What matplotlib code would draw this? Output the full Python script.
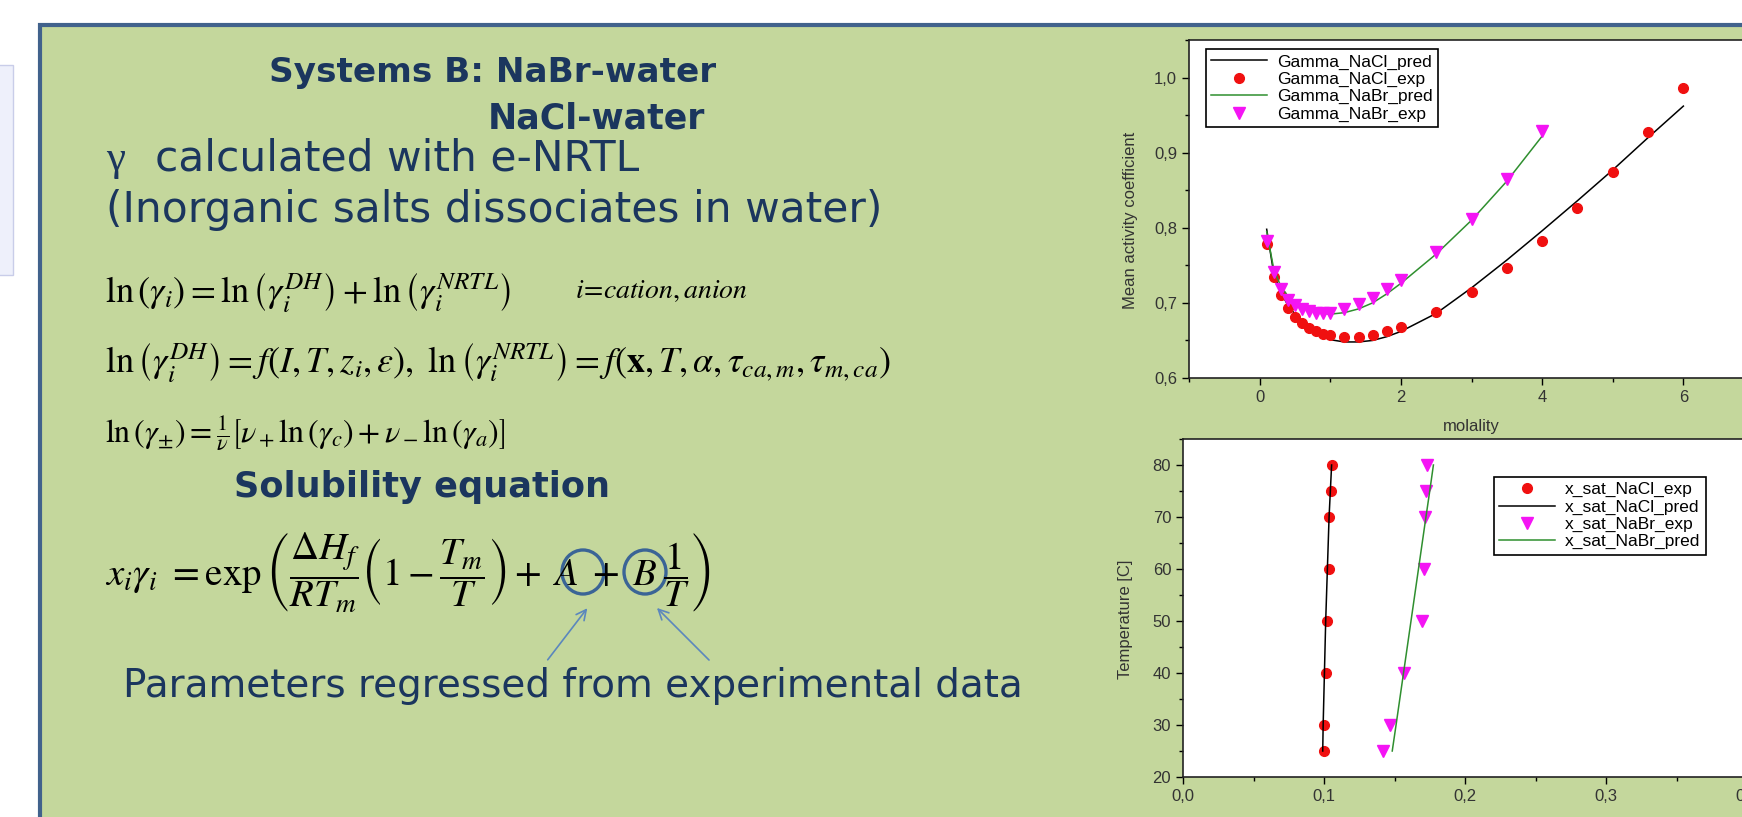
import numpy as np
import matplotlib.pyplot as plt
from matplotlib.patches import Rectangle, Ellipse
from matplotlib.ticker import MultipleLocator, FuncFormatter

plt.rcParams['mathtext.fontset'] = 'stix'

W, H = 1742, 817

# mean activity coefficients at 25 C
m_nacl = [0.1, 0.2, 0.3, 0.4, 0.5, 0.6, 0.7, 0.8, 0.9, 1.0, 1.2, 1.4, 1.6, 1.8,
          2.0, 2.5, 3.0, 3.5, 4.0, 4.5, 5.0, 5.5, 6.0]
gamma_nacl_exp = [0.778, 0.735, 0.710, 0.693, 0.681, 0.673, 0.667, 0.662, 0.659, 0.657,
                  0.654, 0.655, 0.657, 0.662, 0.668, 0.688, 0.714, 0.746, 0.783, 0.826,
                  0.874, 0.928, 0.986]
gamma_nacl_pred = [0.798, 0.739, 0.714, 0.697, 0.685, 0.675, 0.667, 0.660, 0.655, 0.651,
                   0.648, 0.648, 0.650, 0.655, 0.662, 0.686, 0.720, 0.757, 0.796, 0.836,
                   0.877, 0.920, 0.962]
m_nabr = [0.1, 0.2, 0.3, 0.4, 0.5, 0.6, 0.7, 0.8, 0.9, 1.0, 1.2, 1.4, 1.6, 1.8,
          2.0, 2.5, 3.0, 3.5, 4.0]
gamma_nabr_exp = [0.782, 0.741, 0.719, 0.704, 0.697, 0.692, 0.689, 0.687, 0.687, 0.687,
                  0.692, 0.699, 0.706, 0.718, 0.731, 0.768, 0.812, 0.865, 0.929]
gamma_nabr_pred = [0.795, 0.745, 0.722, 0.709, 0.700, 0.694, 0.690, 0.688, 0.686, 0.685,
                   0.687, 0.692, 0.700, 0.712, 0.726, 0.765, 0.810, 0.862, 0.922]

# solubility vs temperature
temp = [25, 30, 40, 50, 60, 70, 75, 80]
xsat_nacl_exp = [0.1000, 0.1000, 0.1015, 0.1021, 0.1033, 0.1039, 0.1048, 0.1054]
xsat_nacl_pred = [0.0991, 0.0994, 0.1003, 0.1012, 0.1024, 0.1036, 0.1045, 0.1054]
xsat_nabr_exp = [0.1418, 0.1469, 0.1567, 0.1696, 0.1710, 0.1716, 0.1722, 0.1731]
xsat_nabr_pred = [0.1484, 0.1511, 0.1564, 0.1617, 0.1670, 0.1723, 0.1750, 0.1776]

panel = '#c4d79c'
border = '#41628c'
navy = '#1b365e'
red = '#f01010'
magenta = '#f414f4'
green = '#2f8f2f'


def comma(v, pos):
    return f'{v:.1f}'.replace('.', ',')


fig = plt.figure(figsize=(W / 100, H / 100), dpi=100)

# slide background in pixel coordinates
bg = fig.add_axes([0, 0, 1, 1])
bg.set_xlim(0, W)
bg.set_ylim(H, 0)
bg.axis('off')
bg.add_patch(Rectangle((40, 25), 1800, 900, fc=panel, ec=border, lw=3))
bg.add_patch(Rectangle((-5, 65), 18, 210, fc='#eef0fb', ec='#c9cde9', lw=1))

txt = dict(family='DejaVu Sans', color=navy, va='baseline', ha='left')
bg.text(269, 82, 'Systems B: NaBr-water', fontsize=24.7, fontweight='bold', **txt)
bg.text(488, 128, 'NaCl-water', fontsize=25, fontweight='bold', **txt)
bg.text(106, 170, 'γ', fontsize=31, family='Liberation Serif', color=navy, va='baseline')
bg.text(155, 170, 'calculated with e-NRTL', fontsize=30.5, **txt)
bg.text(106, 222, '(Inorganic salts dissociates in water)', fontsize=30.5, **txt)
bg.text(234, 497, 'Solubility equation', fontsize=25.3, fontweight='bold', **txt)
bg.text(123, 697, 'Parameters regressed from experimental data', fontsize=28, **txt)

eq = dict(color='black', va='center', ha='left')
bg.text(105, 292, r'$\ln\left(\gamma_i\right)=\ln\left(\gamma_i^{DH}\right)+\ln\left(\gamma_i^{NRTL}\right)$',
        fontsize=26, **eq)
bg.text(575, 290, r'$i\!=\!cation,anion$', fontsize=20, **eq)
bg.text(105, 362, r'$\ln\left(\gamma_i^{DH}\right)=f\left(I,T,z_i,\varepsilon\right),\ '
                  r'\ln\left(\gamma_i^{NRTL}\right)=f\left(\mathbf{x},T,\alpha,\tau_{ca,m},\tau_{m,ca}\right)$',
        fontsize=26, **eq)
bg.text(105, 432, r'$\ln\left(\gamma_{\pm}\right)=\frac{1}{\nu}\left[\nu_+\ln\left(\gamma_c\right)'
                  r'+\nu_-\ln\left(\gamma_a\right)\right]$', fontsize=23, **eq)
bg.text(105, 572, r'$x_i\gamma_i\ =\exp\left(\dfrac{\Delta H_f}{RT_m}\left(1-\dfrac{T_m}{T}\right)'
                  r'+\;A\;+\;B\;\dfrac{1}{T}\right)$', fontsize=28, **eq)

# circles and arrows marking the regressed parameters
bg.add_patch(Ellipse((583, 572), 42, 44, fill=False, ec='#3a6496', lw=2.4))
bg.add_patch(Ellipse((645, 572), 42, 44, fill=False, ec='#3a6496', lw=2.4))
arrow = dict(arrowstyle='->', color='#5b87bd', lw=1.2, mutation_scale=18)
bg.annotate('', xy=(589, 606), xytext=(546, 662), arrowprops=arrow)
bg.annotate('', xy=(655, 606), xytext=(711, 662), arrowprops=arrow)

tick_kw = dict(direction='out', labelsize=12, labelcolor='#333333', width=1)
lab_kw = dict(family='Liberation Sans', fontsize=12, color='#333333')
leg_kw = dict(loc='upper left', borderaxespad=0, fancybox=False,
              prop={'family': 'Liberation Sans', 'size': 12.5}, edgecolor='black',
              framealpha=1, handlelength=3.2, labelspacing=0.12, borderpad=0.3,
              handletextpad=0.6)

# top chart: activity coefficients
ax1 = fig.add_axes([1189 / W, 1 - 378 / H, (1754 - 1189) / W, 338 / H])
ax1.plot(m_nacl, gamma_nacl_pred, color='black', lw=1.1, label='Gamma_NaCl_pred')
ax1.plot(m_nacl, gamma_nacl_exp, 'o', color=red, ms=7, label='Gamma_NaCl_exp')
ax1.plot(m_nabr, gamma_nabr_pred, color=green, lw=1.1, label='Gamma_NaBr_pred')
ax1.plot(m_nabr, gamma_nabr_exp, 'v', color=magenta, ms=8, label='Gamma_NaBr_exp')
ax1.set_xlim(-1, 7)
ax1.set_ylim(0.6, 1.05)
ax1.xaxis.set_major_locator(MultipleLocator(2))
ax1.xaxis.set_minor_locator(MultipleLocator(1))
ax1.yaxis.set_major_locator(MultipleLocator(0.1))
ax1.yaxis.set_minor_locator(MultipleLocator(0.05))
ax1.yaxis.set_major_formatter(FuncFormatter(comma))
ax1.set_ylabel('Mean activity coefficient', **lab_kw)
ax1.set_xlabel('molality', **lab_kw)
ax1.yaxis.set_label_coords(-0.09, 0.467)
ax1.xaxis.set_label_coords(0.5, -0.12)
leg1 = ax1.legend(bbox_to_anchor=(0.03, 0.973), **leg_kw)
leg1.get_frame().set_linewidth(1.2)

# bottom chart: solubility
ax2 = fig.add_axes([1183 / W, 1 - 777 / H, 705 / W, 338 / H])
ax2.plot(xsat_nacl_exp, temp, 'o', color=red, ms=7, label='x_sat_NaCl_exp')
ax2.plot(xsat_nacl_pred, temp, color='black', lw=1.1, label='x_sat_NaCl_pred')
ax2.plot(xsat_nabr_exp, temp, 'v', color=magenta, ms=8, label='x_sat_NaBr_exp')
ax2.plot(xsat_nabr_pred, temp, color=green, lw=1.1, label='x_sat_NaBr_pred')
ax2.set_xlim(0, 0.5)
ax2.set_ylim(20, 85)
ax2.xaxis.set_major_locator(MultipleLocator(0.1))
ax2.xaxis.set_minor_locator(MultipleLocator(0.05))
ax2.xaxis.set_major_formatter(FuncFormatter(comma))
ax2.yaxis.set_major_locator(MultipleLocator(10))
ax2.yaxis.set_minor_locator(MultipleLocator(5))
ax2.set_ylabel('Temperature [C]', **lab_kw)
ax2.yaxis.set_label_coords(-0.071, 0.467)
leg2 = ax2.legend(bbox_to_anchor=(0.441, 0.888), **leg_kw)
leg2.get_frame().set_linewidth(1.2)

for ax in (ax1, ax2):
    ax.tick_params(which='major', length=5, **tick_kw)
    ax.tick_params(which='minor', length=3, direction='out', width=1)
    for t in ax.get_xticklabels() + ax.get_yticklabels():
        t.set_family('Liberation Sans')
    for s in ax.spines.values():
        s.set_linewidth(1.2)
        s.set_color('#222222')

fig.savefig('out.png', dpi=100)
